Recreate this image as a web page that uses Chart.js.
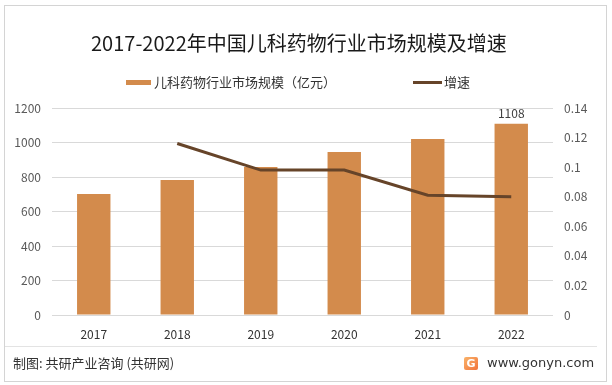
<!DOCTYPE html>
<html>
<head>
<meta charset="utf-8">
<script src="https://cdn.jsdelivr.net/npm/chart.js@4.4.0/dist/chart.umd.min.js"></script>
<style>
    html, body { margin: 0; padding: 0; background: #fff; }
    #wrap { position: relative; width: 612px; height: 385px; font-family: "Noto Sans CJK SC", sans-serif; color: #333; }
    #frame { position: absolute; left: 4px; top: 5px; width: 601px; height: 375px; border: 1px solid #d4d4d4; box-sizing: content-box; }
    canvas { position: absolute; left: 0; top: 0; }
    .title { position: absolute; left: 91px; top: 31px; font-size: 20px; line-height: 24px; color: #1a1a1a; white-space: nowrap; }
    .lg-box { position: absolute; }
    .lg-text { position: absolute; font-size: 13px; line-height: 16px; color: #333; white-space: nowrap; }
    .sep { position: absolute; left: 5px; top: 346px; width: 592px; height: 1px; background: #e3e3e3; }
    .src { position: absolute; left: 13px; top: 354px; font-size: 13px; line-height: 18px; color: #333; white-space: nowrap; }
    .logo { position: absolute; left: 464px; top: 357px; width: 14px; height: 13px; border-radius: 2px;
            background: linear-gradient(135deg, #f9b36a, #f2733a); color: #fff; font: bold 11px/13px "DejaVu Sans", sans-serif; text-align: center; }
    .site { position: absolute; left: 487px; top: 354px; font: 13px/18px "DejaVu Sans", sans-serif; color: #333; white-space: nowrap; }
</style>
</head>
<body>
<div id="wrap">
    <canvas id="chart" width="612" height="385"></canvas>
    <div id="frame"></div>
    <div class="title">2017-2022年中国儿科药物行业市场规模及增速</div>
    <div class="lg-box" style="left:126px; top:80px; width:25px; height:5px; background:#d38b4c;"></div>
    <div class="lg-text" style="left:154px; top:74px;">儿科药物行业市场规模（亿元）</div>
    <div class="lg-box" style="left:413px; top:81px; width:29px; height:3px; background:#664429;"></div>
    <div class="lg-text" style="left:444px; top:74px;">增速</div>
    <div class="sep"></div>
    <div class="src">制图: 共研产业咨询 (共研网)</div>
    <div class="logo">G</div>
    <div class="site">www.gonyn.com</div>
</div>
<script>
const years = ['2017', '2018', '2019', '2020', '2021', '2022'];
const marketSize = [701, 783, 858, 945, 1020, 1108];
const growthRate = [null, 0.116, 0.098, 0.098, 0.081, 0.080];
const labelledBars = [5];

const barColor = '#d38b4c';
const lineColor = '#664429';
const tickFont = { family: 'Noto Sans CJK SC', size: 12 };

const barLabels = {
    id: 'barLabels',
    afterDatasetsDraw(chart) {
        const meta = chart.getDatasetMeta(1);
        const ctx = chart.ctx;
        ctx.save();
        ctx.font = '12px "Noto Sans CJK SC"';
        ctx.fillStyle = '#404040';
        ctx.textAlign = 'center';
        ctx.textBaseline = 'bottom';
        labelledBars.forEach(i => {
            const el = meta.data[i];
            ctx.fillText(String(marketSize[i]), el.x, el.y - 4);
        });
        ctx.restore();
    }
};

const ctx = document.getElementById('chart').getContext('2d');
new Chart(ctx, {
    type: 'bar',
    data: {
        labels: years,
        datasets: [{
            type: 'line',
            label: '增速',
            data: growthRate,
            yAxisID: 'y1',
            borderColor: lineColor,
            borderWidth: 3,
            pointRadius: 0,
            tension: 0,
            order: 1
        }, {
            label: '儿科药物行业市场规模（亿元）',
            data: marketSize,
            yAxisID: 'y',
            backgroundColor: barColor,
            categoryPercentage: 1,
            barPercentage: 0.4,
            order: 2
        }]
    },
    options: {
        responsive: false,
        animation: false,
        layout: {
            padding: { top: 108, left: 0, right: 0, bottom: 0 }
        },
        plugins: {
            legend: { display: false },
            tooltip: { enabled: false }
        },
        scales: {
            x: {
                grid: { display: false, drawTicks: false },
                border: { display: false },
                ticks: { color: '#333', font: tickFont, padding: 12 },
                afterFit(scale) { scale.height = 70; }
            },
            y: {
                position: 'left',
                min: 0,
                max: 1200,
                ticks: {
                    stepSize: 200,
                    color: '#595959',
                    font: tickFont,
                    padding: 11,
                    callback: v => String(v)
                },
                grid: { color: '#d9d9d9', drawTicks: false },
                border: { display: false },
                afterFit(scale) { scale.width = 52; }
            },
            y1: {
                position: 'right',
                min: 0,
                max: 0.14,
                ticks: {
                    stepSize: 0.02,
                    color: '#595959',
                    font: tickFont,
                    padding: 11,
                    callback: v => String(+v.toFixed(2))
                },
                grid: { display: false, drawTicks: false },
                border: { display: false },
                afterFit(scale) { scale.width = 59; }
            }
        }
    },
    plugins: [barLabels]
});
</script>
</body>
</html>
